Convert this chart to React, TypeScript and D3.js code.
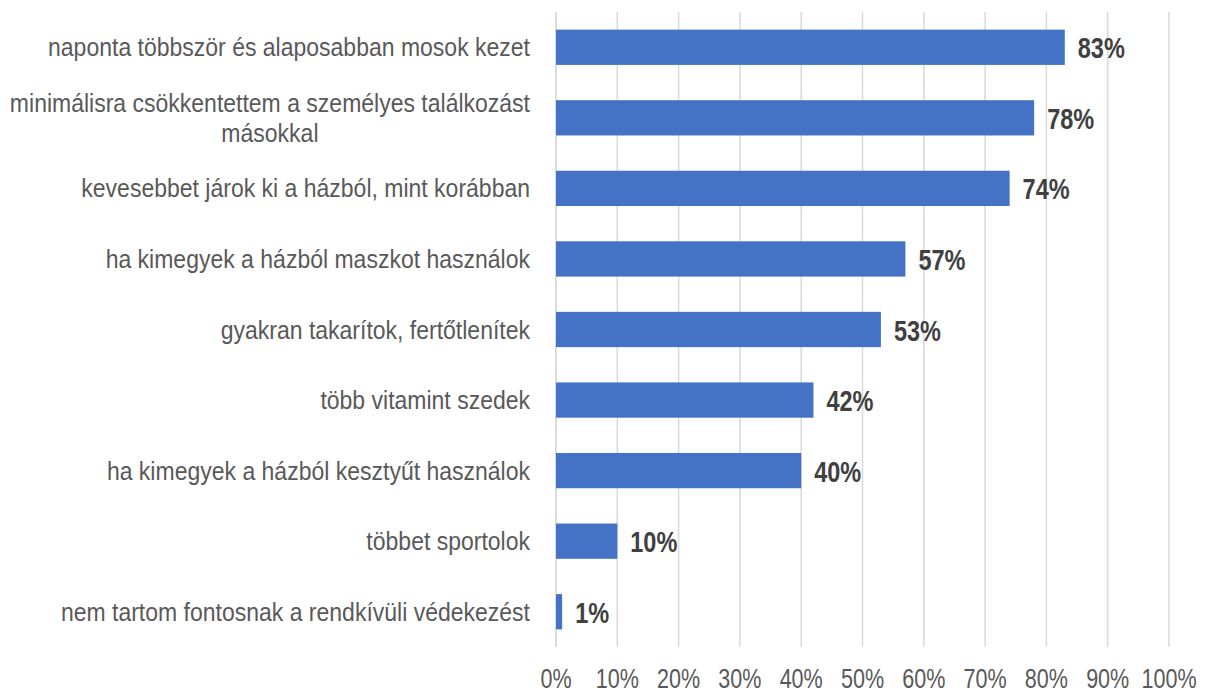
import React, { useEffect, useRef } from "react";
import * as d3 from "d3";

const categories: string[][] = [
  ["naponta többször és alaposabban mosok kezet"],
  ["minimálisra csökkentettem a személyes találkozást", "másokkal"],
  ["kevesebbet járok ki a házból, mint korábban"],
  ["ha kimegyek a házból maszkot használok"],
  ["gyakran takarítok, fertőtlenítek"],
  ["több vitamint szedek"],
  ["ha kimegyek a házból kesztyűt használok"],
  ["többet sportolok"],
  ["nem tartom fontosnak a rendkívüli védekezést"],
];
const values: number[] = [83, 78, 74, 57, 53, 42, 40, 10, 1];
const ticks: number[] = [0, 10, 20, 30, 40, 50, 60, 70, 80, 90, 100];

const W = 1206;
const H = 693;
const FONT = "'Liberation Sans', Arial, sans-serif";

export default function App() {
  const ref = useRef<SVGSVGElement>(null);
  useEffect(() => {
    const svg = d3.select(ref.current);
    svg.selectAll("*").remove();
    const left = 556, right = 1169, top = 12, bottom = 647;
    const x = d3.scaleLinear().domain([0, 100]).range([left, right]);
    const y = d3.scaleBand<number>().domain(d3.range(values.length)).range([top, bottom]).paddingInner(0.5).paddingOuter(0.25);

    // gridlines
    svg.append("g").selectAll("line").data(ticks.slice(1)).join("line")
      .attr("x1", (d) => x(d)).attr("x2", (d) => x(d))
      .attr("y1", top).attr("y2", bottom)
      .attr("stroke", "#d9d9d9").attr("stroke-width", 1.5);
    // axis line
    svg.append("line").attr("x1", x(0)).attr("x2", x(0)).attr("y1", top).attr("y2", bottom)
      .attr("stroke", "#d0d0d0").attr("stroke-width", 1.5);

    // bars
    svg.append("g").selectAll("rect").data(values).join("rect")
      .attr("x", x(0)).attr("y", (_, i) => y(i)!)
      .attr("width", (d) => x(d) - x(0)).attr("height", y.bandwidth())
      .attr("fill", "#4472c4");

    // value labels
    svg.append("g").selectAll("text").data(values).join("text")
      .attr("transform", (d, i) => `translate(${x(d) + 13},${y(i)! + y.bandwidth() / 2 + 11}) scale(0.81,1)`)
      .attr("font-family", FONT).attr("font-size", 29).attr("font-weight", "bold")
      .attr("fill", "#404040")
      .text((d) => d + "%");

    // category labels
    const lab = svg.append("g");
    const SX = 0.92;
    categories.forEach((lines, i) => {
      const cy = y(i)! + y.bandwidth() / 2;
      const lh = 30;
      const b0 = cy + 9 - ((lines.length - 1) * lh) / 2;
      const t0 = lab.append("text")
        .attr("transform", `translate(530,${b0}) scale(${SX},1)`)
        .attr("text-anchor", "end")
        .attr("font-family", FONT).attr("font-size", 25).attr("fill", "#595959")
        .text(lines[0]);
      if (lines.length > 1) {
        const w = (t0.node() as SVGTextElement).getComputedTextLength() * SX;
        for (let k = 1; k < lines.length; k++) {
          lab.append("text")
            .attr("transform", `translate(${530 - w / 2},${b0 + k * lh}) scale(${SX},1)`)
            .attr("text-anchor", "middle")
            .attr("font-family", FONT).attr("font-size", 25).attr("fill", "#595959")
            .text(lines[k]);
        }
      }
    });

    // tick labels
    svg.append("g").selectAll("text").data(ticks).join("text")
      .attr("transform", (d) => `translate(${x(d)},688) scale(0.77,1)`)
      .attr("text-anchor", "middle")
      .attr("font-family", FONT).attr("font-size", 28).attr("fill", "#595959")
      .text((d) => d + "%");
  }, []);
  return (
    <svg ref={ref} width={W} height={H} style={{ position: "absolute", left: 0, top: 0, background: "#fff" }} />
  );
}
